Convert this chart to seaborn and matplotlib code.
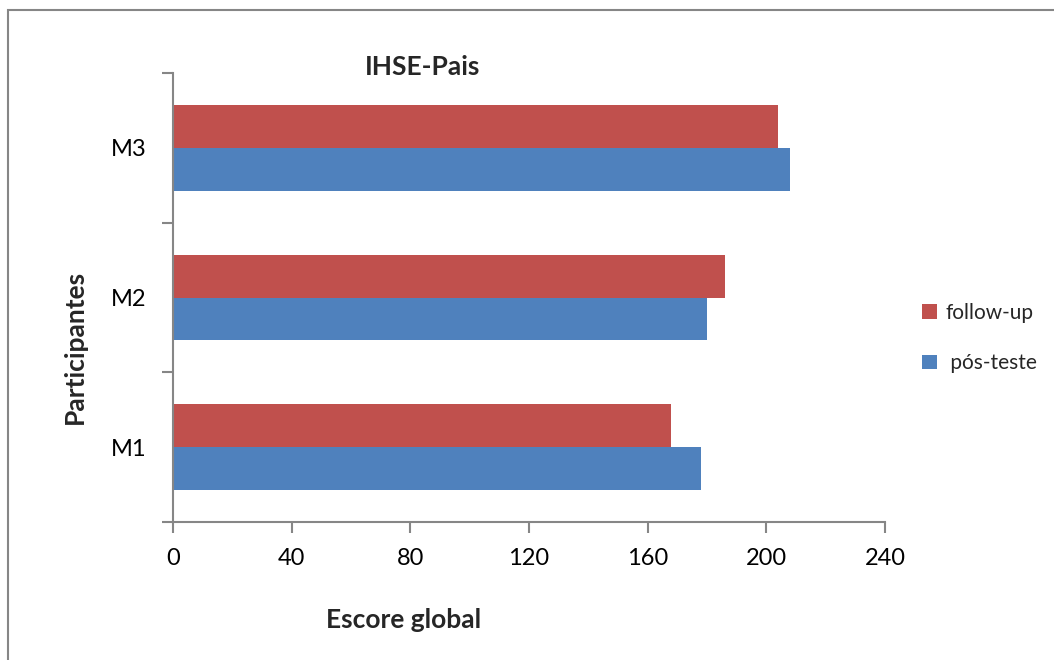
import matplotlib
matplotlib.use("Agg")
import matplotlib.pyplot as plt
from matplotlib.patches import Rectangle
import seaborn as sns
import pandas as pd

participants = ["M3", "M2", "M1"]
pos_teste = [208, 180, 178]
follow_up = [204, 186, 168]
series_names = ["follow-up", "pós-teste"]
x_ticks = [0, 40, 80, 120, 160, 200, 240]

df = pd.DataFrame({
    "Participantes": participants * 2,
    "Escore": follow_up + pos_teste,
    "Série": [series_names[0]] * 3 + [series_names[1]] * 3,
})

sns.set_theme(style="white")
plt.rcParams["font.family"] = ["Lato", "DejaVu Sans"]

W, H = 1054, 660
fig = plt.figure(figsize=(W / 100, H / 100), dpi=100)
ax = fig.add_axes([173 / W, 1 - 522 / H, (885 - 173) / W, (522 - 73) / H])

sns.barplot(data=df, x="Escore", y="Participantes", hue="Série",
            order=participants, hue_order=series_names,
            palette={"follow-up": "#C0504D", "pós-teste": "#4F81BD"},
            saturation=1, orient="h", width=0.574, gap=0, errorbar=None,
            linewidth=0, ax=ax)

gray = "#868686"
ax.set_xlim(0, 240)
ax.set_ylim(2.5, -0.5)
ax.set_xticks(x_ticks)
ax.set_xticklabels([str(t) for t in x_ticks])
for s in ["top", "right"]:
    ax.spines[s].set_visible(False)
for s in ["left", "bottom"]:
    ax.spines[s].set_color(gray)
    ax.spines[s].set_linewidth(1.5)

ax.set_yticks([-0.5, 0.5, 1.5, 2.5], minor=True)
ax.tick_params(axis="y", which="major", length=0, pad=19, labelsize=17, colors="black")
ax.tick_params(axis="y", which="minor", length=8, width=1.5, color=gray, direction="out", left=True)
ax.tick_params(axis="x", which="major", length=8, width=1.5, color=gray, direction="out",
               bottom=True, pad=11, labelsize=17, labelcolor="black")

ax.set_xlabel("")
ax.set_ylabel("")
fig.text(404 / W, 1 - 620 / H, "Escore global", ha="center", va="center",
         fontsize=19, fontweight="bold")
fig.text(75 / W, 1 - 347 / H, "Participantes", ha="center", va="center",
         rotation=90, fontsize=19, fontweight="bold")
fig.text(423 / W, 1 - 67 / H, "IHSE-Pais", ha="center", va="center",
         fontsize=19, fontweight="bold")

handles, labels = ax.get_legend_handles_labels()
ax.legend_.remove()
legend_labels = ["follow-up", " pós-teste"]
fig.legend(handles, legend_labels, loc="center left",
           bbox_to_anchor=(912 / W, 1 - 338 / H), frameon=False,
           fontsize=15, handlelength=0.7, handleheight=0.7,
           handletextpad=0.4, labelspacing=1.45, borderpad=0)

fig.add_artist(Rectangle((8 / W, -0.2), 1.5, 1.2 - 10 / H,
                         transform=fig.transFigure, fill=False,
                         edgecolor=gray, linewidth=1.5))

fig.savefig("out.png", dpi=100, facecolor="white")
